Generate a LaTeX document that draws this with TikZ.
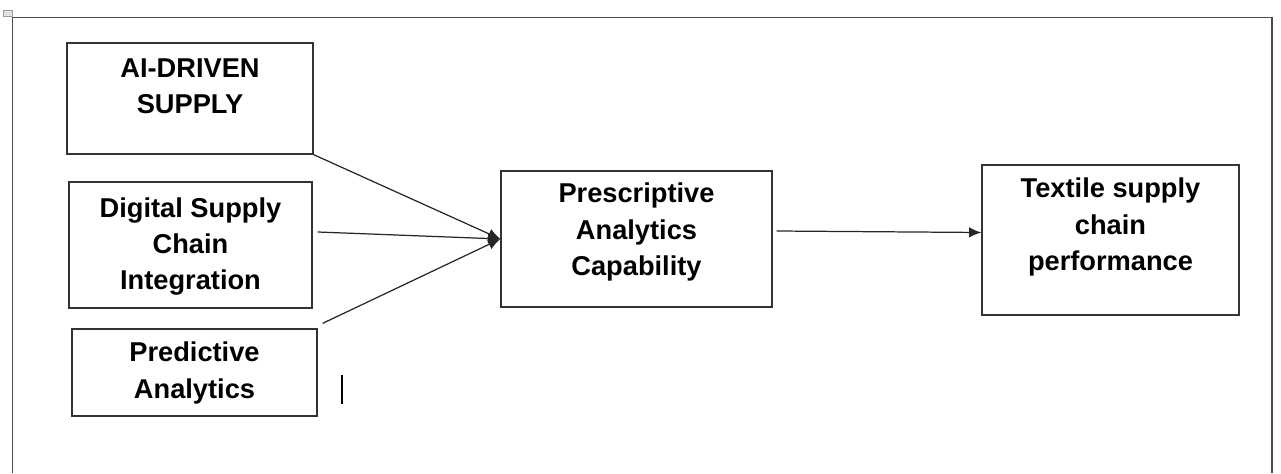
\documentclass[tikz,border=0pt]{standalone}
\usepackage{fontspec}
\setmainfont{Liberation Sans}
\usetikzlibrary{arrows.meta}
\usetikzlibrary{positioning}
\tikzstyle{BoxNode}=[rectangle, draw=black!80, line width=0.75pt, inner sep=0pt]
\tikzstyle{BoxText}=[align=center, inner sep=0pt, font=\fontsize{15.5}{20.6}\selectfont\bfseries]
\tikzstyle{LinkEdge}=[->, draw=black!85, line width=0.7pt]
\tikzstyle{FrameLine}=[draw=black!70, line width=0.6pt]
\tikzset{>={Latex[length=7pt,width=6pt]}}

\begin{document}
\begin{tikzpicture}
\useasboundingbox (0,0) rectangle (25.62,9.46);

% page frame and marks
\draw[FrameLine] (0.25,0) -- (0.25,9.11) -- (25.44,9.11) -- (25.44,0);
\draw[draw=black!40, fill=black!10, line width=0.3pt] (0.06,9.14) rectangle (0.24,9.26);
\draw[line width=1.7pt] (6.84,1.38) -- (6.84,1.96);

% boxes
\node[BoxNode, minimum width=4.92cm, minimum height=2.22cm](AIS) at (3.80,7.49) {};
\node[BoxNode, minimum width=4.86cm, minimum height=2.52cm](DSCI) at (3.81,4.56) {};
\node[BoxNode, minimum width=4.90cm, minimum height=1.74cm](PA) at (3.89,2.01) {};
\node[BoxNode, minimum width=5.42cm, minimum height=2.72cm](PAC) at (12.73,4.68) {};
\node[BoxNode, minimum width=5.14cm, minimum height=3.00cm](TSCP) at (22.21,4.66) {};

\node[BoxText, below=0.32cm of AIS.north](AISText) {AI-DRIVEN\\SUPPLY};
\node[BoxText, below=0.32cm of DSCI.north](DSCIText) {Digital Supply\\Chain\\Integration};
\node[BoxText, below=0.27cm of PA.north](PAText) {Predictive\\Analytics};
\node[BoxText, below=0.25cm of PAC.north](PACText) {Prescriptive\\Analytics\\Capability};
\node[BoxText, below=0.27cm of TSCP.north](TSCPText) {Textile supply\\chain\\performance};

% links
\draw[LinkEdge](AIS.south east) -- (PAC.west);
\draw[LinkEdge]([shift={(0.10,0.26)}]DSCI.east) -- (PAC.west);
\draw[LinkEdge]([shift={(0.10,0.10)}]PA.north east) -- (PAC.west);
\draw[LinkEdge]([shift={(0.08,0.16)}]PAC.east) -- ([yshift=0.15cm]TSCP.west);
\end{tikzpicture}
\end{document}
